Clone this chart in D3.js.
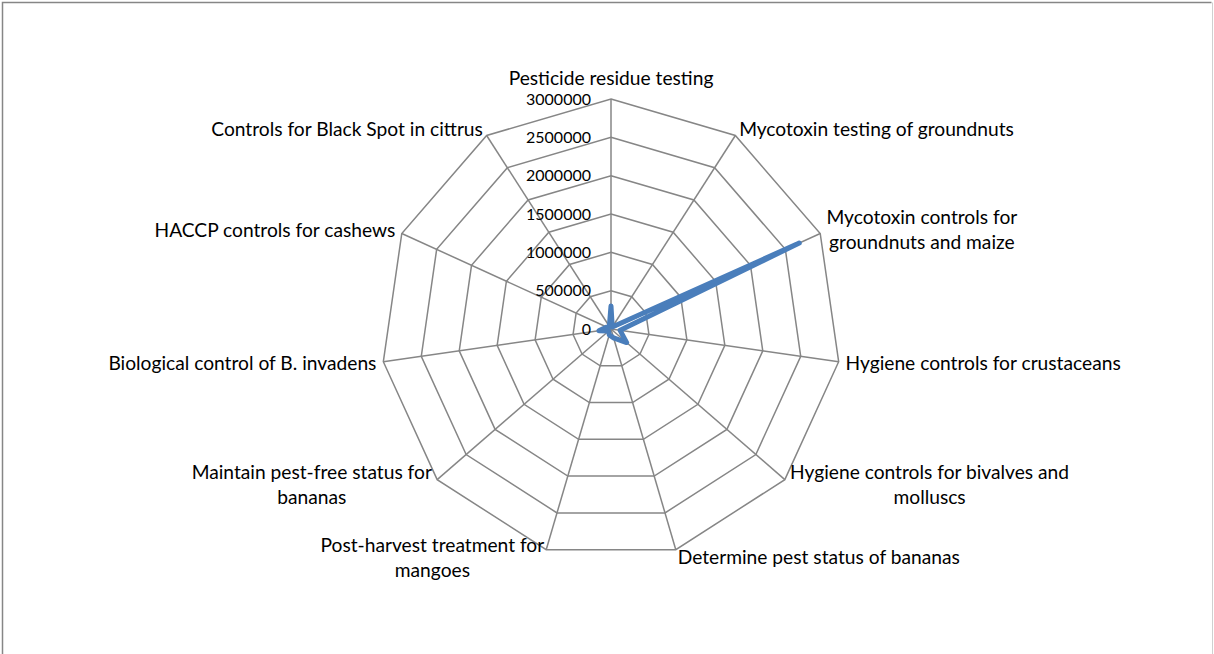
<!DOCTYPE html>
<html>
<head>
<meta charset="utf-8">
<script src="https://cdn.jsdelivr.net/npm/d3@7"></script>
<style>
  body { margin: 0; background: #fff; }
  svg { display: block; font-family: Lato, "Liberation Sans", sans-serif; }
</style>
</head>
<body>
<svg id="radarChart" width="1214" height="654"></svg>
<script>
// categories (lines split where the chart wraps them)
const categories = [
  ["Pesticide residue testing"],
  ["Mycotoxin testing of groundnuts"],
  ["Mycotoxin controls for", "groundnuts and maize"],
  ["Hygiene controls for crustaceans"],
  ["Hygiene controls for bivalves and", "molluscs"],
  ["Determine pest status of bananas"],
  ["Post-harvest treatment for", "mangoes"],
  ["Maintain pest-free status for", "bananas"],
  ["Biological control of B. invadens"],
  ["HACCP controls for cashews"],
  ["Controls for Black Spot in cittrus"]
];

// series values
const values = [300000, 30000, 2700000, 120000, 270000, 120000, 80000, 40000, 160000, 60000, 40000];

// radial tick labels
const ticks = [0, 500000, 1000000, 1500000, 2000000, 2500000, 3000000];

// set the dimensions of the graph
let cx = 611,
    cy = 329,
    radius = 230,
    fontSize = 19.2,
    tickFontSize = 16,
    lineHeight = 25;

let svg = d3.select("#radarChart");

// chart area border (only top, left and right are in the picture)
svg.append("path")
    .attr("d", "M2.5,660 L2.5,2.5 L1211.5,2.5")
    .attr("fill", "none")
    .attr("stroke", "#868686")
    .attr("stroke-width", 1.5);
svg.append("line")
    .attr("x1", 1212.5).attr("x2", 1212.5)
    .attr("y1", 2.5).attr("y2", 660)
    .attr("stroke", "#d0d0d0")
    .attr("stroke-width", 1);

let g = svg.append("g")
           .attr("transform", "translate(" + cx + "," + cy + ")");

// scales
let r = d3.scaleLinear()
          .domain([0, d3.max(ticks)])
          .range([0, radius]);
let angle = d3.scaleLinear()
              .domain([0, categories.length])
              .range([0, 2 * Math.PI]);

const px = (i, v) => r(v) * Math.sin(angle(i));
const py = (i, v) => -r(v) * Math.cos(angle(i));

// add the polygon rings
let ring = d3.line()
             .x(d => d[0])
             .y(d => d[1])
             .curve(d3.curveLinearClosed);

g.selectAll(".ring")
  .data(ticks.slice(1))
  .enter()
  .append("path")
  .attr("class", "ring")
  .attr("fill", "none")
  .attr("stroke", "#868686")
  .attr("stroke-width", 1.5)
  .attr("d", t => ring(categories.map((c, i) => [px(i, t), py(i, t)])));

// add the spokes
g.selectAll(".spoke")
  .data(categories)
  .enter()
  .append("line")
  .attr("class", "spoke")
  .attr("x1", 0).attr("y1", 0)
  .attr("x2", (c, i) => px(i, d3.max(ticks)))
  .attr("y2", (c, i) => py(i, d3.max(ticks)))
  .attr("stroke", "#868686")
  .attr("stroke-width", 1.5);

// add the radial tick labels
g.selectAll(".tick")
  .data(ticks)
  .enter()
  .append("text")
  .attr("class", "tick")
  .attr("x", -20)
  .attr("y", t => -r(t))
  .attr("dy", "0.35em")
  .attr("text-anchor", "end")
  .attr("font-size", tickFontSize)
  .attr("fill", "#000")
  .text(t => t);

// add the data line
g.append("path")
  .datum(values)
  .attr("fill", "none")
  .attr("stroke", "#4a7ebb")
  .attr("stroke-width", 5)
  .attr("stroke-linejoin", "round")
  .attr("d", d3.line()
               .x((v, i) => px(i, v))
               .y((v, i) => py(i, v))
               .curve(d3.curveLinearClosed));

// add the category labels
categories.forEach(function(lines, i) {

  let ux = Math.sin(angle(i)),
      uy = -Math.cos(angle(i)),
      vx = px(i, d3.max(ticks)),
      vy = py(i, d3.max(ticks));

  let label = g.append("text")
               .attr("font-size", fontSize)
               .attr("fill", "#000")
               .attr("text-anchor", "middle");

  let spans = lines.map(l => label.append("tspan").text(l));
  let w = d3.max(spans, s => s.node().getComputedTextLength());
  let h = lines.length * lineHeight;

  // horizontal position of the block
  let left;
  if (Math.abs(ux) < 0.1) left = vx - w / 2;
  else if (ux > 0) left = vx + 7 * ux;
  else left = vx + 7 * ux - w;

  // vertical position of the block
  let top;
  if (uy < -0.9) top = vy - 8 - h;
  else top = vy + 8 * uy - h / 2;

  spans.forEach(function(s, k) {
    s.attr("x", left + w / 2)
     .attr("y", top + k * lineHeight + lineHeight / 2)
     .attr("dy", "0.35em");
  });
});
</script>
</body>
</html>
